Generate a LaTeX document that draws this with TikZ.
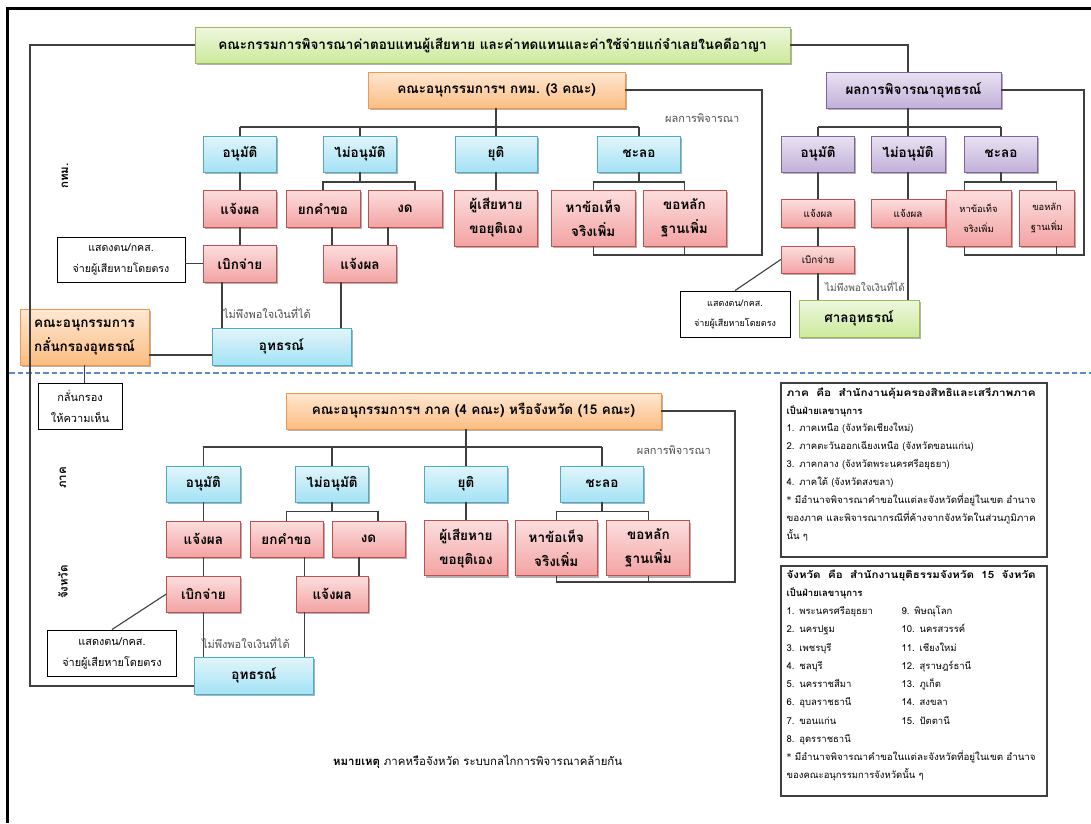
\documentclass[tikz,border=0pt]{standalone}
\usepackage{graphicx}
\usepackage{fontspec}
\setmainfont[Script=Thai]{Loma}
\newfontfamily\astfont{DejaVu Sans}
\usetikzlibrary{shadows}

\definecolor{linec}{HTML}{3F3F3F}
\definecolor{lblc}{HTML}{505050}
\definecolor{dashc}{HTML}{5B8BC9}
\definecolor{grnT}{HTML}{EEF7DE}
\definecolor{grnB}{HTML}{CCEA9C}
\definecolor{grnE}{HTML}{9BBB59}
\definecolor{orgT}{HTML}{FEE8D2}
\definecolor{orgB}{HTML}{FBBD82}
\definecolor{orgE}{HTML}{F79646}
\definecolor{bluT}{HTML}{E2F5FA}
\definecolor{bluB}{HTML}{A3E2F5}
\definecolor{bluE}{HTML}{4BACC6}
\definecolor{redT}{HTML}{FCDEDE}
\definecolor{redB}{HTML}{F3A3A3}
\definecolor{redE}{HTML}{C0504D}
\definecolor{prpT}{HTML}{E9E2F1}
\definecolor{prpB}{HTML}{C2B0DA}
\definecolor{prpE}{HTML}{8064A2}

\newcommand{\starmark}{{\astfont *}}
% a line stretched out to the full text width
\newcommand{\fullline}[1]{\resizebox{249pt}{\height}{#1}}

\tikzset{
  conn/.style={draw=linec, line width=1.1pt},
  shbox/.style={drop shadow={shadow xshift=1.5pt, shadow yshift=-1.8pt, opacity=0.3, fill=black}},
  box/.style={shape=rectangle, inner sep=2pt, line width=0.9pt, align=center,
    font=\bfseries\fontsize{13.5}{24}\selectfont, shbox},
  wh/.style 2 args={minimum width=#1pt, minimum height=#2pt},
  grnbox/.style={box, draw=grnE, top color=grnT, bottom color=grnB},
  orgbox/.style={box, draw=orgE, top color=orgT, bottom color=orgB},
  blubox/.style={box, draw=bluE, top color=bluT, bottom color=bluB},
  redbox/.style={box, draw=redE, top color=redT, bottom color=redB},
  prpbox/.style={box, draw=prpE, top color=prpT, bottom color=prpB},
  smallred/.style={redbox, font=\fontsize{9.8}{20}\selectfont},
  notebox/.style={shape=rectangle, draw=black, line width=0.9pt, fill=white, align=center,
    inner sep=1pt, font=\fontsize{10.6}{21}\selectfont},
  lbl/.style={font=\fontsize{11}{12}\selectfont, text=lblc, inner sep=0pt},
  sidelbl/.style={font=\bfseries\fontsize{11.5}{12}\selectfont, rotate=90, inner sep=0pt},
  infobox/.style={shape=rectangle, draw=linec, line width=1.1pt, fill=white,
    drop shadow={shadow xshift=1.2pt, shadow yshift=-1.2pt, opacity=0.25, fill=black}},
  infotext/.style={align=left, inner sep=0pt, text width=249pt,
    font=\fontsize{9.5}{17.9}\selectfont},
}

\begin{document}
\begin{tikzpicture}[x=1pt, y=-1pt]
\useasboundingbox (0,0) rectangle (1091,823);
\fill[white] (0,0) rectangle (1091,823);

% page frame and section divider
\draw[line width=2.5pt] (7.5,823) -- (7.5,8.5) -- (1091,8.5);
\draw[dashc, line width=1.5pt, dash pattern=on 5.5pt off 3pt] (9,373) -- (1091,373);

% ---------- Bangkok level ----------
\node[grnbox, wh={595}{36}] (title) at (492.5,45)
  {คณะกรรมการพิจารณาค่าตอบแทนผู้เสียหาย และค่าทดแทนและค่าใช้จ่ายแก่จำเลยในคดีอาญา};
\node[orgbox, wh={257}{36}] (kbk) at (496.5,90) {คณะอนุกรรมการฯ กทม. (3 คณะ)};
\node[prpbox, wh={175}{36}] (pmain) at (913.5,90) {ผลการพิจารณาอุทธรณ์};

\node[blubox, wh={73.5}{36}] (bApp) at (240,154) {อนุมัติ};
\node[blubox, wh={73.5}{36}] (bRej) at (360,154) {ไม่อนุมัติ};
\node[blubox, wh={82}{36}] (bStop) at (496,154) {ยุติ};
\node[blubox, wh={83.5}{36}] (bDly) at (639,154) {ชะลอ};

\node[redbox, wh={73.5}{37}] (rNtf) at (240,208.5) {แจ้งผล};
\node[redbox, wh={74}{37}] (rDis) at (323,208.5) {ยกคำขอ};
\node[redbox, wh={74}{37}] (rAbs) at (405,208.5) {งด};
\node[redbox, wh={83}{56}] (rVic) at (496,218) {ผู้เสียหาย\\ขอยุติเอง};
\node[redbox, wh={83.4}{56}] (rFct) at (593.3,218) {หาข้อเท็จ\\จริงเพิ่ม};
\node[redbox, wh={83}{56}] (rEvd) at (684.5,218) {ขอหลัก\\ฐานเพิ่ม};

\node[redbox, wh={73.5}{37}] (rPay) at (240,263.5) {เบิกจ่าย};
\node[redbox, wh={73.5}{37}] (rNtf2) at (360,263.5) {แจ้งผล};
\node[notebox, wh={128}{45}] (note1) at (121,259.5) {แสดงตน/กคส.\\จ่ายผู้เสียหายโดยตรง};
\node[blubox, wh={139}{37}] (appA) at (281.5,346.5) {อุทธรณ์};
\node[orgbox, wh={129}{56}] (scr) at (84.5,337) {คณะอนุกรรมการ\\กลั่นกรองอุทธรณ์};
\node[notebox, wh={84}{46}, font=\fontsize{11}{21}\selectfont] (scrnote) at (80,406) {กลั่นกรอง\\ให้ความเห็น};

\node[lbl, anchor=west] (res1) at (665,118) {ผลการพิจารณา};
\node[lbl, anchor=west] (uns1) at (223,313) {ไม่พึงพอใจเงินที่ได้};
\node[sidelbl] (sBkk) at (65,176) {กทม.};

% appeal result branch
\node[prpbox, wh={73.5}{36}] (pApp) at (818,154) {อนุมัติ};
\node[prpbox, wh={74}{36}] (pRej) at (908,154) {ไม่อนุมัติ};
\node[prpbox, wh={73}{36}] (pDly) at (1001,154) {ชะลอ};
\node[smallred, wh={73.5}{28}] (pNtf) at (818,213) {แจ้งผล};
\node[smallred, wh={74}{28}] (pNtf2) at (908,213) {แจ้งผล};
\node[smallred, wh={65}{56}, font=\fontsize{9.3}{20}\selectfont] (pFct) at (978.5,218) {หาข้อเท็จ\\จริงเพิ่ม};
\node[smallred, wh={55}{56}, font=\fontsize{9.3}{20}\selectfont] (pEvd) at (1047,218) {ขอหลัก\\ฐานเพิ่ม};
\node[smallred, wh={73.5}{27}] (pPay) at (818,259.5) {เบิกจ่าย};
\node[grnbox, wh={120}{37}] (court) at (859,318.5) {ศาลอุทธรณ์};
\node[notebox, wh={110}{46}, font=\fontsize{9}{20}\selectfont] (note3) at (735,314)
  {แสดงตน/กคส.\\จ่ายผู้เสียหายโดยตรง};
\node[lbl, anchor=west, font=\fontsize{10}{12}\selectfont] (uns2) at (825,286) {ไม่พึงพอใจเงินที่ได้};

% connectors, Bangkok level
\coordinate (yA) at (0,127);
\coordinate (yB) at (0,182);
\coordinate (brA) at (762,255);
\coordinate (brB) at (1084,255);
\coordinate (loopL) at (30,686);

\draw[conn] (bStop.north |- kbk.south) -- (bStop.north);
\draw[conn] (bApp.north |- yA) -- (bDly.north |- yA);
\foreach \n in {bApp,bRej,bDly} \draw[conn] (\n.north) -- (\n.north |- yA);
\draw[conn] (bApp.south) -- (rNtf.north);
\draw[conn] (rNtf.south) -- (rPay.north);
\draw[conn] (bRej.south) -- (bRej.south |- yB);
\coordinate (kH0) at ([xshift=10pt]rAbs.north);
\draw[conn] (rDis.north) |- (kH0 |- yB) -- (kH0);
\coordinate (kA) at ([xshift=9pt]rDis.south);
\coordinate (kB) at ([xshift=-17pt]rAbs.south);
\draw[conn] (kA) -- (kA |- rNtf2.north);
\draw[conn] (kB) -- (kB |- rNtf2.north);
\draw[conn] (bStop.south) -- (rVic.north);
\draw[conn] (bDly.south) -- (bDly.south |- yB);
\draw[conn] (rFct.north) |- (rEvd.north |- yB) -- (rEvd.north);
\draw[conn] (kbk.east) -| (brA) -- (rFct.south |- brA) -- (rFct.south);
\draw[conn] (rEvd.south) -- (rEvd.south |- brA);
\draw[conn] (rPay.west -| note1.east) -- (rPay.west);
\coordinate (kC) at ([xshift=-18pt]rPay.south);
\coordinate (kD) at ([xshift=-19pt]rNtf2.south);
\draw[conn] (kC) -- (kC |- appA.north);
\draw[conn] (kD) -- (kD |- appA.north);
\coordinate (kE) at ([yshift=-8.5pt]appA.west);
\draw[conn] (kE) -- (kE -| scr.east);
\draw[conn] (scr.south) -- (scr.south |- scrnote.north);

% connectors, appeal result branch
\draw[conn] (title.east) -| (pRej.north |- pmain.north);
\draw[conn] (pRej.north |- pmain.south) -- (pRej.north);
\draw[conn] (pApp.north |- yA) -- (pDly.north |- yA);
\draw[conn] (pApp.north) -- (pApp.north |- yA);
\draw[conn] (pDly.north) -- (pDly.north |- yA);
\draw[conn] (pApp.south) -- (pNtf.north);
\draw[conn] (pNtf.south) -- (pPay.north);
\draw[conn] (pPay.south) -- (pPay.south |- court.north);
\draw[conn] (pRej.south) -- (pNtf2.north);
\draw[conn] (pNtf2.south) -- (pNtf2.south |- court.north);
\draw[conn] (note3.north) -- (pPay.west);
\draw[conn] (pDly.south) -- (pDly.south |- yB);
\coordinate (kF) at ([xshift=-14pt]pFct.north);
\coordinate (kG) at ([xshift=9.5pt]pEvd.north);
\draw[conn] (kF) |- (kG |- yB) -- (kG);
\draw[conn] (pmain.east) -| (brB) -- (kF |- brB) -- (kF |- pFct.south);
\draw[conn] (kG |- pEvd.south) -- (kG |- brB);

% ---------- regional / provincial level ----------
\node[orgbox, wh={375}{36}] (reg) at (473.5,411) {คณะอนุกรรมการฯ ภาค (4 คณะ) หรือจังหวัด (15 คณะ)};

\node[blubox, wh={73.3}{36}] (cApp) at (203.4,484) {อนุมัติ};
\node[blubox, wh={72.4}{36}] (cRej) at (332,484) {ไม่อนุมัติ};
\node[blubox, wh={82.5}{36}] (cStop) at (466,484) {ยุติ};
\node[blubox, wh={82.7}{36}] (cDly) at (602,484) {ชะลอ};

\node[redbox, wh={73.3}{36}] (dNtf) at (203.4,539) {แจ้งผล};
\node[redbox, wh={73}{36}] (dDis) at (286.5,539) {ยกคำขอ};
\node[redbox, wh={73}{36}] (dAbs) at (368.5,539) {งด};
\node[redbox, wh={82.5}{55}] (dVic) at (466,548.3) {ผู้เสียหาย\\ขอยุติเอง};
\node[redbox, wh={82.7}{55}] (dFct) at (556.3,548.3) {หาข้อเท็จ\\จริงเพิ่ม};
\node[redbox, wh={83}{55}] (dEvd) at (648.4,548.3) {ขอหลัก\\ฐานเพิ่ม};

\node[redbox, wh={73.3}{36}] (ePay) at (203.4,594) {เบิกจ่าย};
\node[redbox, wh={72.4}{36}] (eNtf2) at (332.2,594) {แจ้งผล};
\node[notebox, wh={129}{46.7}, font=\fontsize{10.9}{21}\selectfont] (note4) at (112,653.3) {แสดงตน/กคส.\\จ่ายผู้เสียหายโดยตรง};
\node[blubox, wh={118.6}{37}] (appB) at (254,675.7) {อุทธรณ์};

\node[lbl, anchor=west] (res2) at (636.6,450) {ผลการพิจารณา};
\node[lbl, anchor=west] (uns3) at (201.8,643) {ไม่พึงพอใจเงินที่ได้};
\node[sidelbl] (sReg) at (63,478) {ภาค};
\node[sidelbl] (sPrv) at (63,582) {จังหวัด};

\coordinate (yC) at (0,447);
\coordinate (yD) at (0,511.7);
\coordinate (brC) at (735,582);

\draw[conn] (title.west) -| (loopL) -- (loopL -| appB.west);
\draw[conn] (cStop.north |- reg.south) -- (cStop.north);
\draw[conn] (cApp.north |- yC) -- (cDly.north |- yC);
\foreach \n in {cApp,cRej,cDly} \draw[conn] (\n.north) -- (\n.north |- yC);
\draw[conn] (cApp.south) -- (dNtf.north);
\draw[conn] (dNtf.south) -- (ePay.north);
\draw[conn] (cRej.south) -- (cRej.south |- yD);
\coordinate (kH) at ([xshift=9.5pt]dAbs.north);
\draw[conn] (dDis.north) |- (kH |- yD) -- (kH);
\coordinate (kI) at ([xshift=18pt]dDis.south);
\coordinate (kJ) at ([xshift=-9.5pt]dAbs.south);
\draw[conn] (kI) -- (kI |- eNtf2.north);
\draw[conn] (kJ) -- (kJ |- eNtf2.north);
\draw[conn] (cStop.south) -- (dVic.north);
\draw[conn] (cDly.south) -- (cDly.south |- yD);
\draw[conn] (dFct.north) |- (dEvd.north |- yD) -- (dEvd.north);
\draw[conn] (reg.east) -| (brC) -- (dFct.south |- brC) -- (dFct.south);
\draw[conn] (dEvd.south) -- (dEvd.south |- brC);
\draw[conn] (note4.north) -- (ePay.west);
\draw[conn] (ePay.south) -- (ePay.south |- appB.north);
\coordinate (kK) at ([xshift=-27.6pt]eNtf2.south);
\draw[conn] (kK) -- (kK |- appB.north);

% ---------- secretariat notes ----------
\node[infobox, wh={266}{174}] (info1) at (914,470) {};
\node[infotext, anchor=north west] (info1t) at ([xshift=6pt,yshift=-5pt]info1.north west) {%
\fullline{\bfseries\fontsize{10}{17.9}\selectfont ภาค~~คือ~~สำนักงานคุ้มครองสิทธิและเสรีภาพภาค}\\
\textbf{เป็นฝ่ายเลขานุการ}\\
1. ภาคเหนือ (จังหวัดเชียงใหม่)\\
2. ภาคตะวันออกเฉียงเหนือ (จังหวัดขอนแก่น)\\
3. ภาคกลาง (จังหวัดพระนครศรีอยุธยา)\\
4. ภาคใต้ (จังหวัดสงขลา)\\
\fullline{\starmark\ มีอำนาจพิจารณาคำขอในแต่ละจังหวัดที่อยู่ในเขต อำนาจ}\\
\fullline{ของภาค และพิจารณากรณีที่ค้างจากจังหวัดในส่วนภูมิภาค}\\
นั้น ๆ};

\node[infobox, wh={266}{230}] (info2) at (914,681) {};
\node[infotext, anchor=north west, font=\fontsize{9.5}{18.25}\selectfont] (info2t)
  at ([xshift=6pt,yshift=-4pt]info2.north west) {%
\fullline{\bfseries\fontsize{10}{18.25}\selectfont จังหวัด~~คือ~~สำนักงานยุติธรรมจังหวัด~~15~~จังหวัด}\\
\textbf{เป็นฝ่ายเลขานุการ}\\
\makebox[115pt][l]{1. พระนครศรีอยุธยา}9. พิษณุโลก\\
\makebox[115pt][l]{2. นครปฐม}10. นครสวรรค์\\
\makebox[115pt][l]{3. เพชรบุรี}11. เชียงใหม่\\
\makebox[115pt][l]{4. ชลบุรี}12. สุราษฎร์ธานี\\
\makebox[115pt][l]{5. นครราชสีมา}13. ภูเก็ต\\
\makebox[115pt][l]{6. อุบลราชธานี}14. สงขลา\\
\makebox[115pt][l]{7. ขอนแก่น}15. ปัตตานี\\
8. อุดรราชธานี\\
\fullline{\starmark\ มีอำนาจพิจารณาคำขอในแต่ละจังหวัดที่อยู่ในเขต อำนาจ}\\
ของคณะอนุกรรมการจังหวัดนั้น ๆ};

\node[anchor=west, inner sep=0pt, font=\fontsize{11.4}{13}\selectfont] (remark) at (333,762)
  {\textbf{หมายเหตุ} ภาคหรือจังหวัด ระบบกลไกการพิจารณาคล้ายกัน};
\end{tikzpicture}
\end{document}
